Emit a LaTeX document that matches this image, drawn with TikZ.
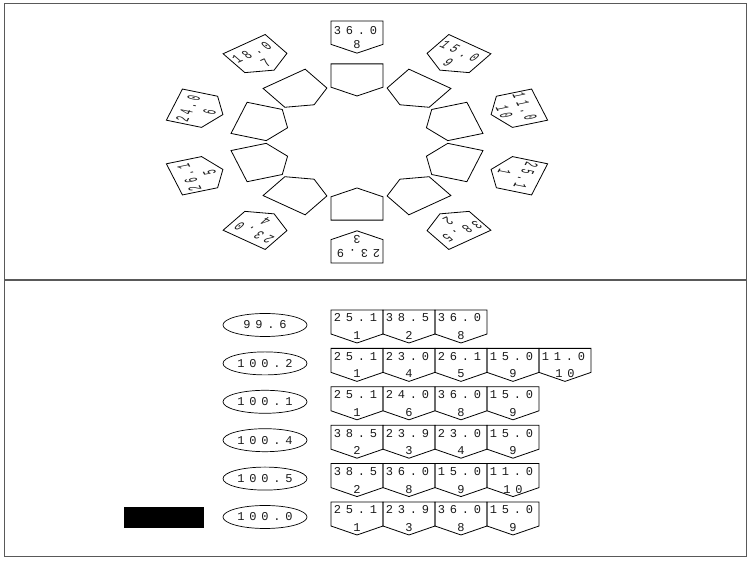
\documentclass[tikz,border=0pt]{standalone}
\usepackage{fontspec}
\newfontfamily\numfont{Liberation Mono}[LetterSpace=40]
\usetikzlibrary{shapes,positioning}

\tikzset{
	num/.style={inner sep=0pt, text=black!90, font=\numfont\fontsize{12}{12}\selectfont},
	frame/.style={draw=black!65, line width=1pt},
	pics/cell/.style 2 args={code={
		\draw[line width=0.8pt] (-26,0) -- (26,0) -- (26,-24) -- (0,-33) -- (-26,-24) -- cycle;
		\node[num] (-v) at (-1.5,-8) {#1};
		\node[num] (-n) at (0,-25.5) {#2};
	}}
}

\begin{document}
\begin{tikzpicture}[x=1pt,y=1pt]
	\useasboundingbox (0,0) rectangle (750,561);
	\draw[frame] (4,281) rectangle (746,557);
	\draw[frame] (4,4) rectangle (746,280);

	% ring of pentagons (upper panel)
	\foreach \v [count=\k] in {25.1,38.5,23.9,23.0,26.1,24.0,18.0,36.0,15.0,11.0} {
		\pgfmathsetmacro\a{90-36*(\k-8)}
		\begin{scope}[shift={(357,419)}, yscale=0.63, rotate=\a-90]
			\draw[line width=0.8pt] (-26,124) -- (26,124) -- (26,87) -- (0,73) -- (-26,87) -- cycle;
			\draw[line width=0.8pt] (-26,192) -- (26,192) -- (26,155) -- (0,141) -- (-26,155) -- cycle;
			\node[num, transform shape, yscale=1.587] (ring\k-v) at (-1.5,177) {\v};
			\node[num, transform shape, yscale=1.587] (ring\k-n) at (0,155) {\k};
		\end{scope}
	}

	% combinations (lower panel)
	\foreach \tot/\cells [count=\r] in {
		99.6/{25.1/1,38.5/2,36.0/8},
		100.2/{25.1/1,23.0/4,26.1/5,15.0/9,11.0/10},
		100.1/{25.1/1,24.0/6,36.0/8,15.0/9},
		100.4/{38.5/2,23.9/3,23.0/4,15.0/9},
		100.5/{38.5/2,36.0/8,15.0/9,11.0/10},
		100.0/{25.1/1,23.9/3,36.0/8,15.0/9}} {
		\node[num, draw, line width=0.7pt, ellipse, minimum width=84, minimum height=23]
			(sum\r) at (265,236-38.4*\r+38.4) {\tot};
		\foreach \v/\n [count=\c] in \cells {
			\pic (row\r-\c) at (357+52*\c-52,251-38.4*\r+38.4) {cell={\v}{\n}};
		}
	}
	\node[fill=black, minimum width=80, minimum height=21, inner sep=0pt] (mask) at (164,43.5) {};
\end{tikzpicture}
\end{document}
